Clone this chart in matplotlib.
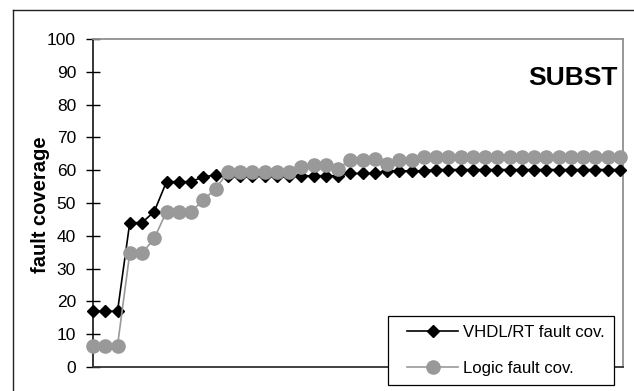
import matplotlib
matplotlib.use('Agg')
import matplotlib.pyplot as plt
from matplotlib import font_manager
from matplotlib.legend_handler import HandlerLine2D
from matplotlib.lines import Line2D

# values (fault coverage in %)
vhdl_cov = [17, 17, 17, 44, 44, 47.4, 56.5, 56.5, 56.5, 58, 58.5,
            58.3, 58.3, 58.3, 58.3, 58.3, 58.3, 58.3, 58.3, 58.3, 58.3,
            59, 59, 59,
            59.8, 59.8, 59.8, 59.8,
            60.2, 60.2, 60.2, 60.2, 60.2, 60.2, 60.2, 60.2,
            60.2, 60.2, 60.2, 60.2, 60.2, 60.2, 60.2, 60.2]
logic_cov = [6.5, 6.5, 6.5, 34.7, 34.7, 39.2, 47.4, 47.4, 47.4, 50.8, 54.4,
             59.3, 59.3, 59.3, 59.3, 59.3, 59.3,
             61, 61.7, 61.7, 60.5,
             63.1, 63.1, 63.3, 62, 63.1, 63.1,
             64.1, 64.1, 64.1, 64.1, 64.1, 64.1, 64.1, 64.1, 64.1,
             64.1, 64.1, 64.1, 64.1, 64.1, 64.1, 64.1, 64.1]
steps = list(range(len(vhdl_cov)))
y_ticks = list(range(0, 101, 10))
labels = ['VHDL/RT fault cov.', 'Logic fault cov.']
title = 'SUBST'

names = {f.name for f in font_manager.fontManager.ttflist}
if 'Liberation Sans Narrow' in names:
    thin_font, tick_size, leg_size = 'Liberation Sans Narrow', 13.5, 14
else:
    thin_font, tick_size, leg_size = 'Liberation Sans', 12.5, 12.1

W, H = 634, 391
fig = plt.figure(figsize=(W / 100, H / 100), dpi=100)
ax = fig.add_axes([93 / W, 1 - 367 / H, 530 / W, 328 / H])

ax.plot(steps, vhdl_cov, color='black', lw=1.2, marker='D', ms=6.6,
        clip_on=False, zorder=3, label=labels[0])
ax.plot(steps, logic_cov, color='#999999', lw=1.2, marker='o', ms=9.5,
        mec='#999999', mfc='#999999', clip_on=False, zorder=4, label=labels[1])

ax.set_xlim(0, 43.25)
ax.set_ylim(0, 100)
ax.set_yticks(y_ticks)
ax.set_xticks([])
ax.tick_params(axis='y', direction='inout', length=9.4, width=1, pad=7.5,
               labelsize=tick_size)
for t in ax.get_yticklabels():
    t.set_fontfamily(thin_font)

ax.spines['left'].set_color('black')
ax.spines['left'].set_linewidth(1.1)
ax.spines['bottom'].set_color('#333333')
ax.spines['bottom'].set_linewidth(1.3)
ax.spines['top'].set_color('#909090')
ax.spines['right'].set_color('#909090')
ax.spines['top'].set_linewidth(1.3)
ax.spines['right'].set_linewidth(1.3)

fig.text(41 / W, 1 - 205 / H, 'fault coverage', rotation=90, ha='center',
         va='center', fontsize=14.5, fontweight='bold', family='Liberation Sans')
ax.text(0.99, 0.88, title, transform=ax.transAxes, ha='right', va='center',
        fontsize=19, fontweight='bold', family='Liberation Sans')

# outer chart border (only left and top visible in the crop)
fig.add_artist(Line2D([13 / W, 13 / W], [1 - 10 / H, 0], color='#222222',
                      lw=1, transform=fig.transFigure))
fig.add_artist(Line2D([13 / W, 1], [1 - 10 / H, 1 - 10 / H], color='#222222',
                      lw=1, transform=fig.transFigure))

fs = leg_size * 100 / 72
bp = 0.55
xpad = 19 - bp * fs
h, l = ax.get_legend_handles_labels()
leg = fig.legend(h, l, loc='upper left', bbox_to_anchor=(388 / W, 1 - 316 / H),
                 borderaxespad=0, fancybox=False, framealpha=1, edgecolor='black',
                 borderpad=bp, labelspacing=1.25, handlelength=(xpad + 51) / fs,
                 handletextpad=0.3,
                 handler_map={Line2D: HandlerLine2D(xpad=xpad / fs)},
                 prop={'family': thin_font, 'size': leg_size})
leg.get_frame().set_linewidth(0.9)

fig.savefig('out.png', dpi=100)
